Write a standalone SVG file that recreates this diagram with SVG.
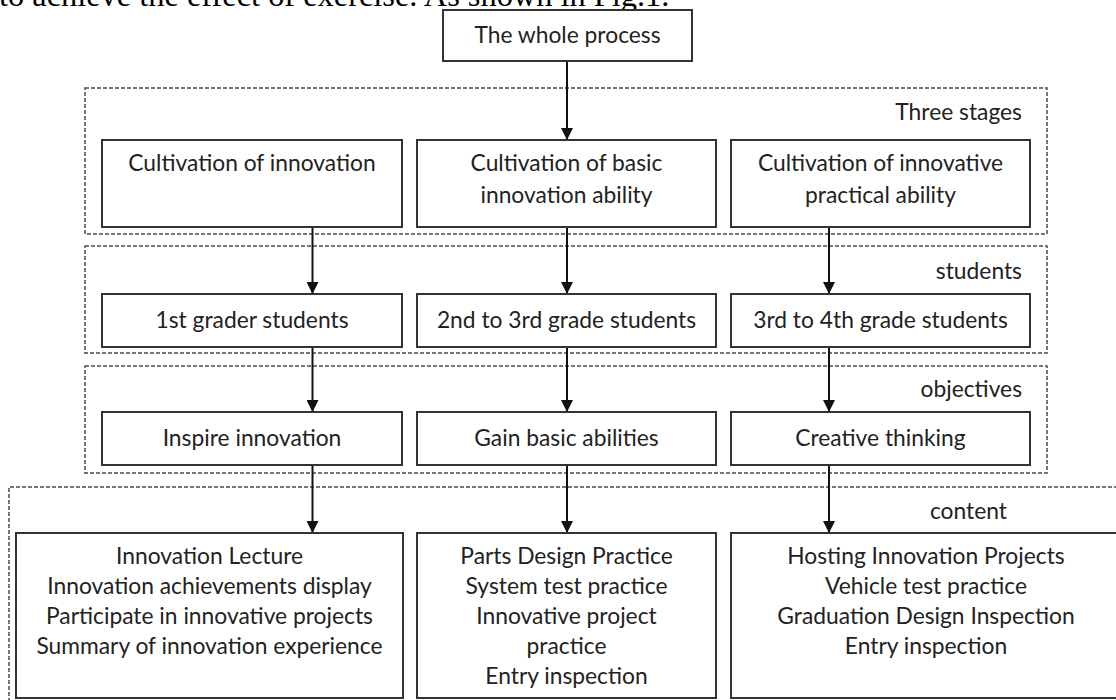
<svg xmlns="http://www.w3.org/2000/svg" width="1116" height="700" viewBox="0 0 1116 700">
  <defs>
    <marker id="arr" viewBox="0 0 12 12" refX="12" refY="6" markerWidth="12" markerHeight="12" markerUnits="userSpaceOnUse" orient="auto">
      <path d="M0,0 L12,6 L0,12 Z" fill="#111"/>
    </marker>
    <style>
      .box{fill:#fff;stroke:#333;stroke-width:2}
      .grp{fill:none;stroke:#4a4a4a;stroke-width:1.5;stroke-dasharray:4 2}
      .t{font-family:Lato,"Liberation Sans",sans-serif;font-size:22.8px;fill:#222;text-anchor:middle}
      .lbl{font-family:Lato,"Liberation Sans",sans-serif;font-size:22.8px;fill:#222;text-anchor:end}
      .edge{stroke:#111;stroke-width:2;fill:none;marker-end:url(#arr)}
    </style>
  </defs>
  <rect width="1116" height="700" fill="#fff"/>
  <text x="-1" y="6" font-family="'Liberation Serif',serif" font-size="32.4" fill="#000">to achieve the effect of exercise. As shown in Fig.1.</text>

  <g id="group-stages">
    <rect class="grp" x="85" y="88" width="962" height="146"/>
    <text class="lbl" x="1022" y="120">Three stages</text>
  </g>
  <g id="group-students">
    <rect class="grp" x="85" y="246" width="962" height="107"/>
    <text class="lbl" x="1022" y="279">students</text>
  </g>
  <g id="group-objectives">
    <rect class="grp" x="85" y="366" width="962" height="107"/>
    <text class="lbl" x="1022" y="397">objectives</text>
  </g>
  <g id="group-content">
    <path class="grp" d="M9,702 L9,487 L1120,487"/>
    <text class="lbl" x="1007" y="519">content</text>
  </g>

  <g id="connectors">
    <line class="edge" x1="567" y1="61" x2="567" y2="140"/>
    <line class="edge" x1="312.5" y1="227" x2="312.5" y2="294"/>
    <line class="edge" x1="567" y1="227" x2="567" y2="294"/>
    <line class="edge" x1="829" y1="227" x2="829" y2="294"/>
    <line class="edge" x1="312.5" y1="347" x2="312.5" y2="412"/>
    <line class="edge" x1="567" y1="347" x2="567" y2="412"/>
    <line class="edge" x1="829" y1="347" x2="829" y2="412"/>
    <line class="edge" x1="312.5" y1="465" x2="312.5" y2="533"/>
    <line class="edge" x1="567" y1="465" x2="567" y2="533"/>
    <line class="edge" x1="829" y1="465" x2="829" y2="533"/>
  </g>

  <g id="whole">
    <rect class="box" x="443" y="10" width="249" height="51"/>
    <text class="t" x="567.5" y="43">The whole process</text>
  </g>

  <g id="stage1">
    <rect class="box" x="102" y="140" width="300" height="87"/>
    <text class="t" x="252" y="171">Cultivation of innovation</text>
  </g>
  <g id="stage2">
    <rect class="box" x="417" y="140" width="299" height="87"/>
    <text class="t" x="566.5" y="171">Cultivation of basic</text>
    <text class="t" x="566.5" y="203">innovation ability</text>
  </g>
  <g id="stage3">
    <rect class="box" x="731" y="140" width="299" height="87"/>
    <text class="t" x="880.5" y="171">Cultivation of innovative</text>
    <text class="t" x="880.5" y="203">practical ability</text>
  </g>

  <g id="student1">
    <rect class="box" x="102" y="294" width="300" height="53"/>
    <text class="t" x="252" y="328">1st grader students</text>
  </g>
  <g id="student2">
    <rect class="box" x="417" y="294" width="299" height="53"/>
    <text class="t" x="566.5" y="328">2nd to 3rd grade students</text>
  </g>
  <g id="student3">
    <rect class="box" x="731" y="294" width="299" height="53"/>
    <text class="t" x="880.5" y="328">3rd to 4th grade students</text>
  </g>

  <g id="objective1">
    <rect class="box" x="102" y="412" width="300" height="53"/>
    <text class="t" x="252" y="446">Inspire innovation</text>
  </g>
  <g id="objective2">
    <rect class="box" x="417" y="412" width="299" height="53"/>
    <text class="t" x="566.5" y="446">Gain basic abilities</text>
  </g>
  <g id="objective3">
    <rect class="box" x="731" y="412" width="299" height="53"/>
    <text class="t" x="880.5" y="446">Creative thinking</text>
  </g>

  <g id="content1">
    <rect class="box" x="16" y="533" width="387" height="165"/>
    <text class="t" x="209.5" y="564">Innovation Lecture</text>
    <text class="t" x="209.5" y="594">Innovation achievements display</text>
    <text class="t" x="209.5" y="624">Participate in innovative projects</text>
    <text class="t" x="209.5" y="654">Summary of innovation experience</text>
  </g>
  <g id="content2">
    <rect class="box" x="417" y="533" width="299" height="165"/>
    <text class="t" x="566.5" y="564">Parts Design Practice</text>
    <text class="t" x="566.5" y="594">System test practice</text>
    <text class="t" x="566.5" y="624">Innovative project</text>
    <text class="t" x="566.5" y="654">practice</text>
    <text class="t" x="566.5" y="684">Entry inspection</text>
  </g>
  <g id="content3">
    <rect class="box" x="731" y="533" width="392" height="165"/>
    <text class="t" x="926" y="564">Hosting Innovation Projects</text>
    <text class="t" x="926" y="594">Vehicle test practice</text>
    <text class="t" x="926" y="624">Graduation Design Inspection</text>
    <text class="t" x="926" y="654">Entry inspection</text>
  </g>
</svg>
